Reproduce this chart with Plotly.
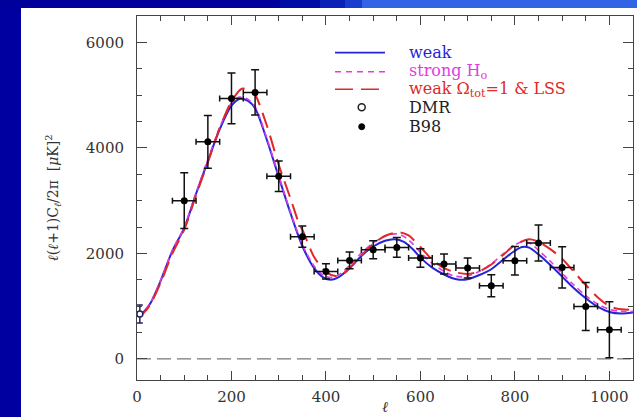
import plotly.graph_objects as go

# ---------------- data ----------------
# B98 band powers
b98_ell = [100, 150, 200, 250, 300, 350, 400, 450, 500, 550,
           600, 650, 700, 750, 800, 850, 900, 950, 1000]
b98_power = [3000, 4115, 4938, 5052, 3463, 2317, 1658, 1867, 2070, 2114,
             1912, 1798, 1722, 1386, 1861, 2197, 1734, 994, 551]
b98_err = [530, 500, 480, 430, 290, 200, 145, 160, 170, 185,
           175, 190, 190, 210, 270, 340, 390, 455, 530]
b98_bin_half = 25

# DMR point
dmr_ell = [6]
dmr_power = [850]
dmr_err = [170]

# model spectra
weak_ell = [2, 10, 20, 30, 50, 75, 100, 125, 150, 175, 200, 218, 235, 250, 275,
            300, 325, 350, 375, 395, 410, 425, 450, 475, 500, 525, 545, 565, 585,
            600, 625, 650, 668, 683, 700, 725, 750, 775, 800, 815, 830, 850, 875,
            900, 925, 950, 975, 1000, 1025, 1050]
weak_power = [820, 860, 950, 1080, 1480, 2050, 2480, 3130, 3750, 4350, 4800, 4930,
              4890, 4750, 4150, 3450, 2760, 2140, 1720, 1540, 1500, 1540, 1720,
              1950, 2130, 2240, 2270, 2220, 2070, 1920, 1730, 1600, 1530, 1500,
              1510, 1590, 1700, 1880, 2050, 2120, 2110, 1980, 1780, 1560, 1340,
              1150, 990, 890, 860, 880]

strong_ell = [2, 10, 20, 30, 50, 75, 100, 125, 150, 175, 200, 215, 235, 250, 275,
              300, 325, 350, 375, 395, 410, 425, 450, 475, 500, 525, 547, 565, 585,
              600, 625, 650, 668, 685, 700, 725, 750, 775, 800, 815, 830, 850, 875,
              900, 925, 950, 975, 1000, 1025, 1050]
strong_power = [830, 870, 960, 1090, 1490, 2060, 2500, 3150, 3780, 4390, 4850, 4960,
                4920, 4780, 4180, 3470, 2780, 2170, 1760, 1580, 1540, 1580, 1770,
                2010, 2200, 2330, 2370, 2320, 2170, 2020, 1810, 1660, 1580, 1555,
                1570, 1660, 1800, 1990, 2160, 2220, 2200, 2060, 1850, 1620, 1400,
                1200, 1040, 940, 900, 900]

lss_ell = [2, 10, 20, 30, 50, 75, 100, 125, 150, 175, 200, 222, 240, 250, 275,
           300, 325, 344, 350, 375, 400, 420, 435, 450, 475, 500, 525, 555, 575,
           600, 625, 650, 675, 700, 725, 750, 775, 800, 830, 850, 875, 900, 925,
           950, 975, 1000, 1025, 1050]
lss_power = [800, 840, 930, 1060, 1440, 2000, 2450, 3100, 3730, 4370, 4880, 5120,
             5090, 5010, 4420, 3680, 3040, 2540, 2450, 1930, 1650, 1570, 1600, 1720,
             1960, 2180, 2330, 2400, 2340, 2120, 1880, 1720, 1640, 1610, 1660, 1790,
             1970, 2160, 2270, 2220, 2080, 1900, 1650, 1400, 1170, 1000, 940, 930]

X_RANGE = [0, 1050]
Y_RANGE = [-400, 6500]
ZERO_LEVEL = 0

# ---------------- styling ----------------
BLUE = "#2424d8"
MAGENTA = "#e03ce0"
RED = "#e02828"
SERIF = "DejaVu Serif"

W, H = 637, 417
ML, MR, MT, MB = 137, 4, 16, 37
PW, PH = W - ML - MR, H - MT - MB


def px(x):
    return (x - ML) / PW


def py(y):
    return (H - MB - y) / PH


fig = go.Figure()

# dashed zero level
fig.add_trace(go.Scatter(
    x=X_RANGE, y=[ZERO_LEVEL, ZERO_LEVEL], mode="lines",
    line=dict(color="#555555", width=1, dash="14px,6px"),
    hoverinfo="skip", showlegend=False))

# model curves
fig.add_trace(go.Scatter(
    x=weak_ell, y=weak_power, mode="lines", name="weak",
    line=dict(color=BLUE, width=2, shape="spline", smoothing=0.8),
    showlegend=False))
fig.add_trace(go.Scatter(
    x=strong_ell, y=strong_power, mode="lines", name="strong H0",
    line=dict(color=MAGENTA, width=1.6, dash="6px,4px", shape="spline", smoothing=0.8),
    showlegend=False))
fig.add_trace(go.Scatter(
    x=lss_ell, y=lss_power, mode="lines", name="weak Ωtot=1 & LSS",
    line=dict(color=RED, width=2, dash="16px,8px", shape="spline", smoothing=0.8),
    showlegend=False))

# B98 band powers
fig.add_trace(go.Scatter(
    x=b98_ell, y=b98_power, mode="markers", name="B98",
    marker=dict(color="black", size=7),
    error_y=dict(type="data", array=b98_err, color="#111111", thickness=1.5, width=4),
    error_x=dict(type="constant", value=b98_bin_half, color="#111111", thickness=1.5, width=3),
    showlegend=False))

# DMR
fig.add_trace(go.Scatter(
    x=dmr_ell, y=dmr_power, mode="markers", name="DMR",
    marker=dict(color="white", size=6, line=dict(color="#222266", width=1.5)),
    error_y=dict(type="data", array=dmr_err, color="#222266", thickness=1.5, width=3),
    showlegend=False))

# ---------------- page background ----------------
shapes = []
shapes.append(dict(type="rect", xref="paper", yref="paper",
                   x0=px(0), x1=px(21), y0=py(H), y1=py(0),
                   fillcolor="#0000a0", line=dict(width=0), layer="above"))
top_bands = [(0, 280, "#00009a"), (280, 320, "#000ca6"), (320, 345, "#0a22b6"),
             (345, 362, "#1a3ccc"), (362, 637, "#3262e6")]
for x0, x1, col in top_bands:
    shapes.append(dict(type="rect", xref="paper", yref="paper",
                       x0=px(x0), x1=px(x1), y0=py(8), y1=py(0),
                       fillcolor=col, line=dict(width=0), layer="above"))

# ---------------- legend ----------------
leg_x0, leg_x1, leg_tx = 335, 385, 407
leg_rows = [52.7, 71.7, 89.3, 107.3, 126.7]
shapes.append(dict(type="line", xref="paper", yref="paper",
                   x0=px(leg_x0), x1=px(leg_x1), y0=py(leg_rows[0]), y1=py(leg_rows[0]),
                   line=dict(color=BLUE, width=1.8)))
shapes.append(dict(type="line", xref="paper", yref="paper",
                   x0=px(leg_x0), x1=px(leg_x1), y0=py(leg_rows[1]), y1=py(leg_rows[1]),
                   line=dict(color=MAGENTA, width=1.5, dash="6px,5px")))
shapes.append(dict(type="line", xref="paper", yref="paper",
                   x0=px(leg_x0), x1=px(leg_x1), y0=py(leg_rows[2]), y1=py(leg_rows[2]),
                   line=dict(color=RED, width=1.5, dash="18px,8px")))
cx = 361.7
shapes.append(dict(type="circle", xref="paper", yref="paper",
                   x0=px(cx - 3.5), x1=px(cx + 3.5),
                   y0=py(leg_rows[3] + 3.5), y1=py(leg_rows[3] - 3.5),
                   line=dict(color="#222222", width=1.5), fillcolor="white"))
shapes.append(dict(type="circle", xref="paper", yref="paper",
                   x0=px(cx - 3), x1=px(cx + 3),
                   y0=py(leg_rows[4] + 3), y1=py(leg_rows[4] - 3),
                   line=dict(color="black", width=1), fillcolor="black"))

legend_labels = [
    ("weak", BLUE),
    ("strong H<sub>o</sub>", MAGENTA),
    ("weak Ω<sub>tot</sub>=1 &amp; LSS", RED),
    ("DMR", "#222222"),
    ("B98", "#222222"),
]
annotations = []
for (txt, col), yy in zip(legend_labels, leg_rows):
    annotations.append(dict(text=txt, xref="paper", yref="paper",
                            x=px(leg_tx), y=py(yy), xanchor="left", yanchor="middle",
                            showarrow=False, font=dict(family=SERIF, size=16, color=col)))

# axis titles
annotations.append(dict(
    text="<i>ℓ</i>(<i>ℓ</i>+1)C<sub><i>ℓ</i></sub>/2π  [<i>μ</i>K]<sup>2</sup>",
    xref="paper", yref="paper", x=px(53), y=0.5, textangle=-90,
    xanchor="center", yanchor="middle", showarrow=False,
    font=dict(family=SERIF, size=14, color="#333333")))
annotations.append(dict(
    text="<i>ℓ</i>", xref="paper", yref="paper", x=0.5, y=py(407),
    xanchor="center", yanchor="middle", showarrow=False,
    font=dict(family=SERIF, size=15, color="#333333")))

axis_common = dict(
    showline=True, linecolor="#444444", linewidth=1, mirror="allticks",
    ticks="inside", tickcolor="#444444", tickwidth=1,
    showgrid=False, zeroline=False,
    tickfont=dict(family=SERIF, size=15, color="#333333"),
)

fig.update_layout(
    width=W, height=H, autosize=False,
    margin=dict(l=ML, r=MR, t=MT, b=MB),
    paper_bgcolor="white", plot_bgcolor="white",
    xaxis=dict(range=X_RANGE, tick0=0, dtick=200, ticklen=9,
               minor=dict(ticks="inside", dtick=50, ticklen=5, tickcolor="#444444"),
               ticklabelstandoff=3, **axis_common),
    yaxis=dict(range=Y_RANGE, tick0=0, dtick=2000, ticklen=10,
               minor=dict(ticks="inside", dtick=500, ticklen=5, tickcolor="#444444"),
               ticklabelstandoff=9, **axis_common),
    shapes=shapes,
    annotations=annotations,
    showlegend=False,
)

fig.write_html("out.html")
